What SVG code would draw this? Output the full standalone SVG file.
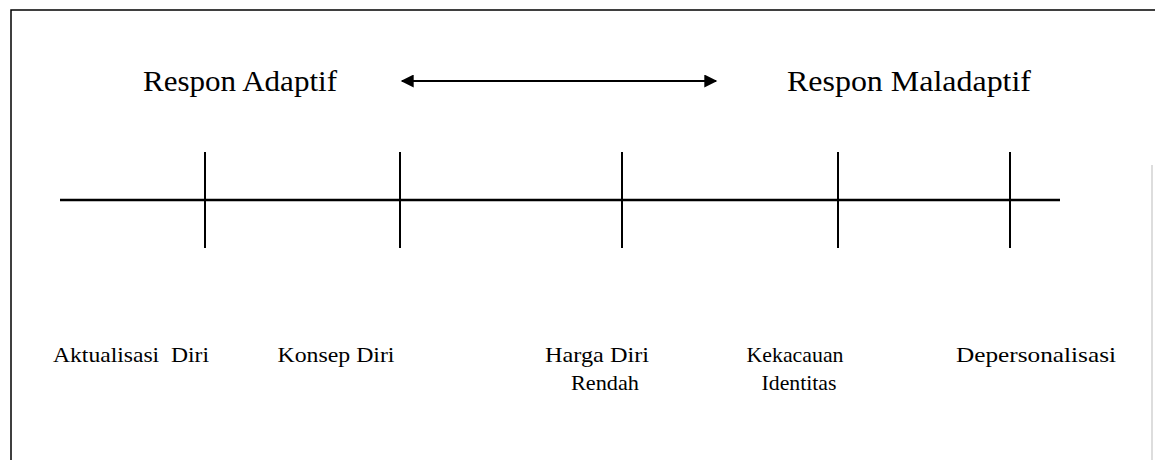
<svg xmlns="http://www.w3.org/2000/svg" width="1155" height="460" viewBox="0 0 1155 460">
  <defs>
    <style>
      .frame { fill: none; stroke: #000; stroke-width: 1.5; }
      .frame-faint { fill: none; stroke: #bbb; stroke-width: 1; }
      .axis { stroke: #000; stroke-width: 2.5; fill: none; }
      .tick { stroke: #000; stroke-width: 2; fill: none; }
      .link { stroke: #000; stroke-width: 2; fill: none; }
      .head { font-family: "Liberation Serif", "Times New Roman", serif; font-size: 29px; fill: #000; text-anchor: middle; }
      .label { font-family: "Liberation Serif", "Times New Roman", serif; font-size: 21px; fill: #000; text-anchor: middle; white-space: pre; }
    </style>
    <marker id="arrow-end" viewBox="0 0 10 10" refX="9" refY="5" markerWidth="8.5" markerHeight="6.5" markerUnits="strokeWidth" orient="auto">
      <path d="M0,0 L10,5 L0,10 Z" fill="#000"/>
    </marker>
    <marker id="arrow-start" viewBox="0 0 10 10" refX="1" refY="5" markerWidth="8.5" markerHeight="6.5" markerUnits="strokeWidth" orient="auto">
      <path d="M10,0 L0,5 L10,10 Z" fill="#000"/>
    </marker>
  </defs>

  <rect width="1155" height="460" fill="#fff"/>

  <!-- outer frame -->
  <g id="frame">
    <path class="frame" d="M11,460 L11,10 L1155,10"/>
    <path class="frame-faint" d="M1152,165 L1152,460"/>
  </g>

  <!-- continuum axis -->
  <g id="axis">
    <line class="axis" x1="60" y1="200" x2="1060" y2="200"/>
  </g>

  <g id="connectors">
    <line class="link" x1="402" y1="81" x2="716" y2="81" marker-start="url(#arrow-start)" marker-end="url(#arrow-end)"/>
  </g>

  <g id="respon-adaptif">
    <text class="head" x="240" y="91" textLength="194" lengthAdjust="spacingAndGlyphs">Respon Adaptif</text>
  </g>
  <g id="respon-maladaptif">
    <text class="head" x="909" y="91" textLength="244" lengthAdjust="spacingAndGlyphs">Respon Maladaptif</text>
  </g>

  <g id="aktualisasi-diri">
    <line class="tick" x1="205" y1="152" x2="205" y2="248"/>
    <text class="label" x="131" y="362" textLength="156" lengthAdjust="spacingAndGlyphs">Aktualisasi  Diri</text>
  </g>
  <g id="konsep-diri">
    <line class="tick" x1="400" y1="152" x2="400" y2="248"/>
    <text class="label" x="336" y="362" textLength="117" lengthAdjust="spacingAndGlyphs">Konsep Diri</text>
  </g>
  <g id="harga-diri-rendah">
    <line class="tick" x1="622" y1="152" x2="622" y2="248"/>
    <text class="label" x="597" y="362" textLength="104" lengthAdjust="spacingAndGlyphs">Harga Diri</text>
    <text class="label" x="605" y="390" textLength="68" lengthAdjust="spacingAndGlyphs">Rendah</text>
  </g>
  <g id="kekacauan-identitas">
    <line class="tick" x1="838" y1="152" x2="838" y2="248"/>
    <text class="label" x="795" y="362" textLength="97" lengthAdjust="spacingAndGlyphs">Kekacauan</text>
    <text class="label" x="799" y="390" textLength="75" lengthAdjust="spacingAndGlyphs">Identitas</text>
  </g>
  <g id="depersonalisasi">
    <line class="tick" x1="1010" y1="152" x2="1010" y2="248"/>
    <text class="label" x="1036" y="362" textLength="160" lengthAdjust="spacingAndGlyphs">Depersonalisasi</text>
  </g>
</svg>
